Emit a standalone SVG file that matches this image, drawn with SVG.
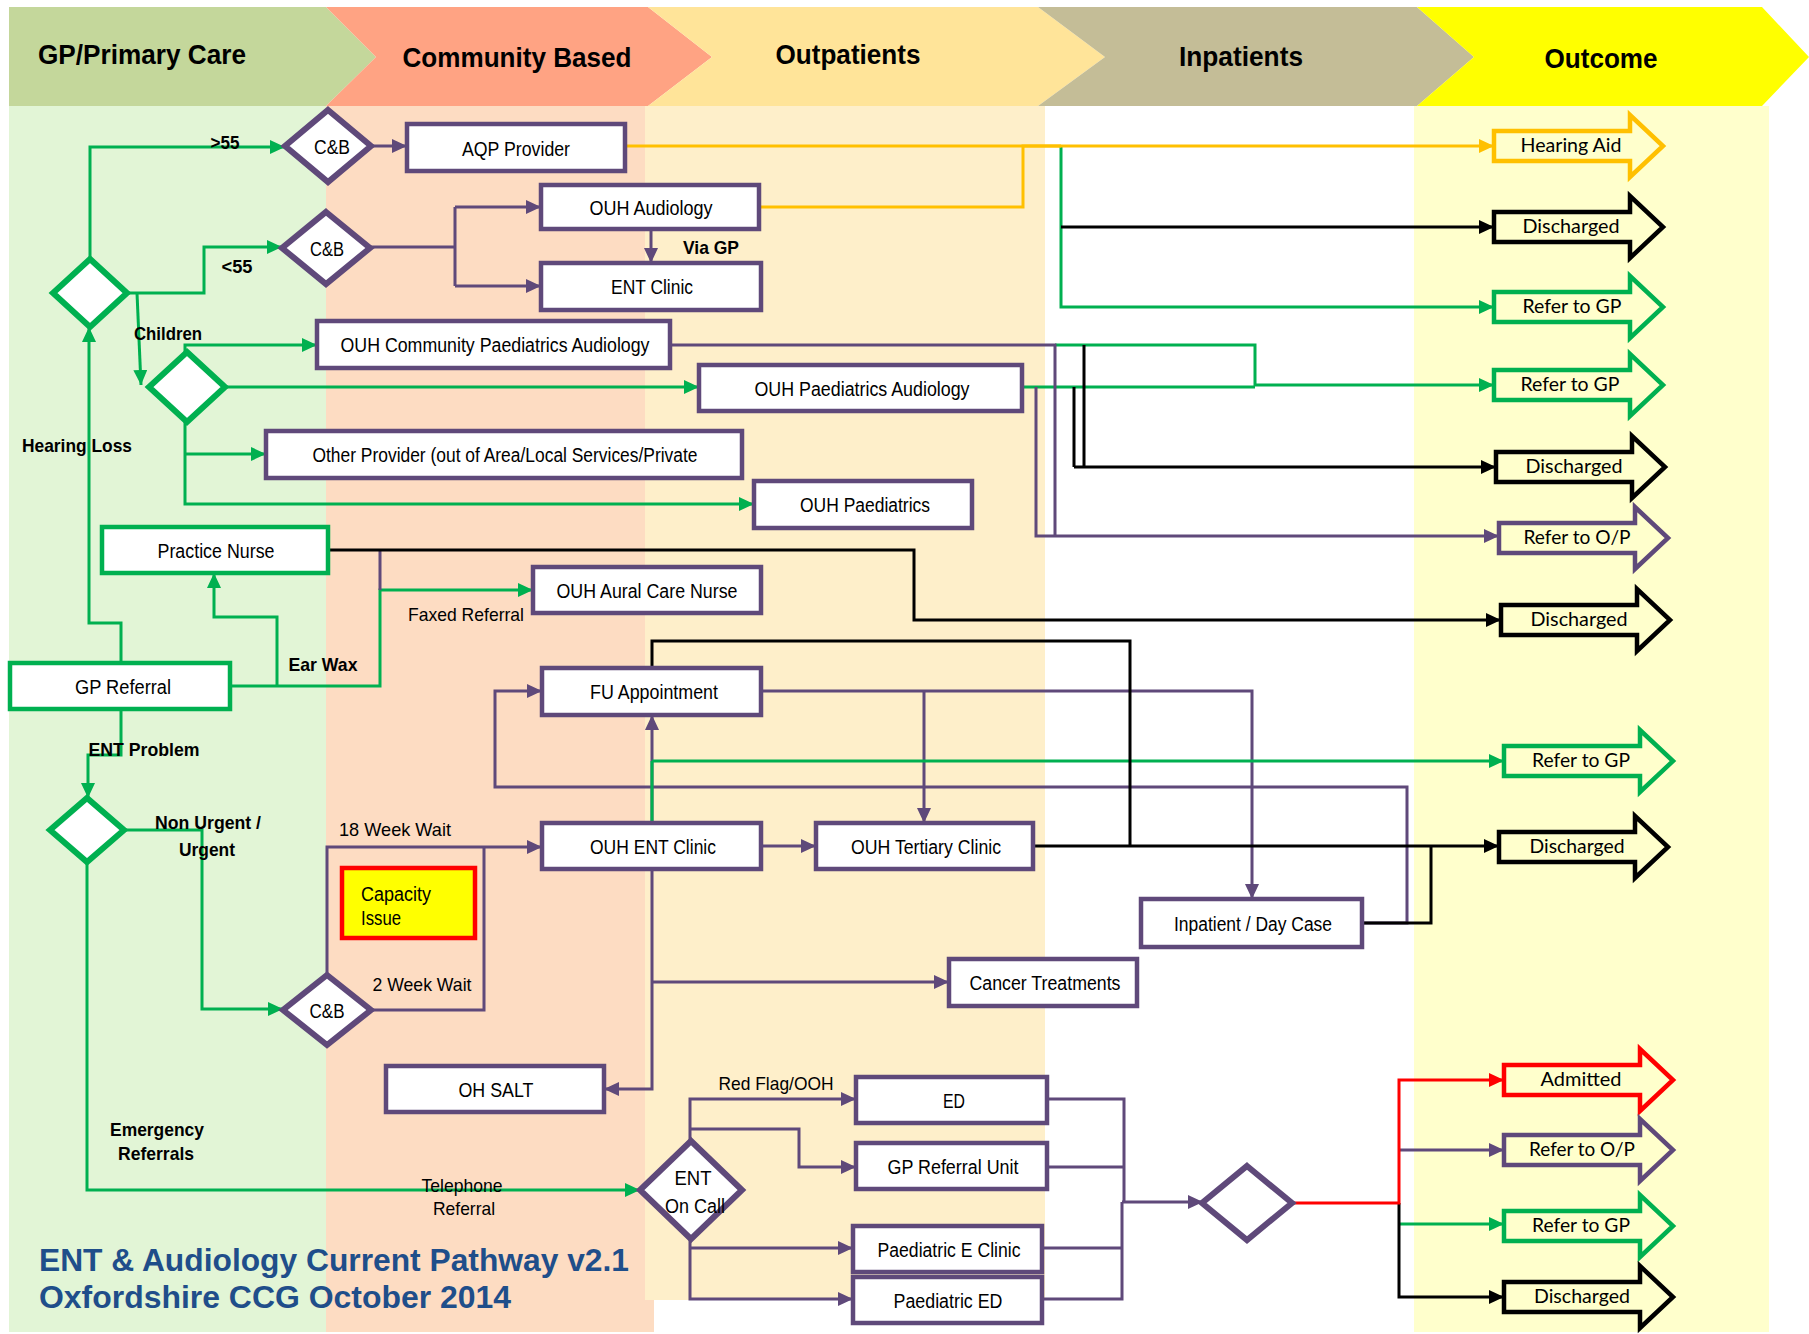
<svg xmlns="http://www.w3.org/2000/svg" width="1809" height="1334" viewBox="0 0 1809 1334">
<defs>
<style>
.hd{font-family:"Liberation Sans Narrow","Liberation Sans",Arial,sans-serif;font-weight:bold;font-size:27px;fill:#000;text-anchor:middle}
.t{font-family:"Liberation Sans Narrow","Liberation Sans",Arial,sans-serif;font-size:20px;fill:#000;text-anchor:middle}
.b{font-family:"Liberation Sans Narrow","Liberation Sans",Arial,sans-serif;font-size:19px;font-weight:bold;fill:#000;text-anchor:middle}
.l{font-family:"Liberation Sans Narrow","Liberation Sans",Arial,sans-serif;font-size:19px;fill:#000;text-anchor:middle}
.o{font-family:Lato,"Liberation Sans",sans-serif;font-size:19px;fill:#000;text-anchor:middle}
.ttl{font-family:"Liberation Sans",Arial,sans-serif;font-size:31px;font-weight:bold;fill:#1F4E8A}
.pbox{fill:#fff;stroke:#5F497A;stroke-width:4.5}
.gbox{fill:#fff;stroke:#00B050;stroke-width:4.5}
.pd{fill:#fff;stroke:#5F497A;stroke-width:6}
.gd{fill:#fff;stroke:#00B050;stroke-width:6}
.cg{fill:none;stroke:#00B050;stroke-width:3}
.cp{fill:none;stroke:#5F497A;stroke-width:3}
.ck{fill:none;stroke:#000;stroke-width:3}
.cy{fill:none;stroke:#FFC000;stroke-width:3}
.cr{fill:none;stroke:#FF0000;stroke-width:3}
.oa{fill:none;stroke-width:4.5}
</style>
<marker id="mg" markerUnits="userSpaceOnUse" markerWidth="15" markerHeight="14" refX="15" refY="7" orient="auto"><path d="M0,0 L15,7 L0,14 Z" fill="#00B050"/></marker>
<marker id="mp" markerUnits="userSpaceOnUse" markerWidth="15" markerHeight="14" refX="15" refY="7" orient="auto"><path d="M0,0 L15,7 L0,14 Z" fill="#5F497A"/></marker>
<marker id="mk" markerUnits="userSpaceOnUse" markerWidth="15" markerHeight="14" refX="15" refY="7" orient="auto"><path d="M0,0 L15,7 L0,14 Z" fill="#000"/></marker>
<marker id="my" markerUnits="userSpaceOnUse" markerWidth="15" markerHeight="14" refX="15" refY="7" orient="auto"><path d="M0,0 L15,7 L0,14 Z" fill="#FFC000"/></marker>
<marker id="mr" markerUnits="userSpaceOnUse" markerWidth="15" markerHeight="14" refX="15" refY="7" orient="auto"><path d="M0,0 L15,7 L0,14 Z" fill="#FF0000"/></marker>
<path id="oarrow" d="M0,-15 H136 V-31 L169,0 L136,31 V15 H0 Z"/>
</defs>

<rect width="1809" height="1334" fill="#fff"/>

<g id="background">
<rect x="9" y="106" width="317" height="1226" fill="#E2F5D6"/>
<rect x="326" y="106" width="328" height="1226" fill="#FDDCC2"/>
<rect x="645" y="106" width="400" height="1194" fill="#FEEFCA"/>
<rect x="1414" y="106" width="355" height="1226" fill="#FFFFCC"/>
</g>

<g id="header">
<polygon points="9,7 326,7 376,57 326,106 9,106" fill="#C4D79B"/>
<polygon points="326,7 648,7 712,57 648,106 326,106 376,57" fill="#FFA383"/>
<polygon points="648,7 1038,7 1105,57 1038,106 648,106 712,57" fill="#FFE499"/>
<polygon points="1038,7 1417,7 1474,57 1417,106 1038,106 1105,57" fill="#C4BD97"/>
<polygon points="1417,7 1762,7 1809,57 1762,106 1417,106 1474,57" fill="#FFFF00"/>
<text class="hd" x="142" y="64" textLength="208" lengthAdjust="spacingAndGlyphs">GP/Primary Care</text>
<text class="hd" x="517" y="67" textLength="229" lengthAdjust="spacingAndGlyphs">Community Based</text>
<text class="hd" x="848" y="64" textLength="145" lengthAdjust="spacingAndGlyphs">Outpatients</text>
<text class="hd" x="1241" y="66" textLength="124" lengthAdjust="spacingAndGlyphs">Inpatients</text>
<text class="hd" x="1601" y="68" textLength="113" lengthAdjust="spacingAndGlyphs">Outcome</text>
</g>

<g id="connectors">
<!-- green -->
<path class="cg" d="M90,259 V147 H285" marker-end="url(#mg)"/>
<path class="cg" d="M127,293 H204 V247 H282" marker-end="url(#mg)"/>
<path class="cg" d="M137,293 L141,385" marker-end="url(#mg)"/>
<path class="cg" d="M185,352 V345 H317" marker-end="url(#mg)"/>
<path class="cg" d="M225,387 H699" marker-end="url(#mg)"/>
<path class="cg" d="M185,422 V504 H754" marker-end="url(#mg)"/>
<path class="cg" d="M185,454 H266" marker-end="url(#mg)"/>
<path class="cg" d="M121,663 V623 H89 V327" marker-end="url(#mg)"/>
<path class="cg" d="M230,686 H380 V590 H533" marker-end="url(#mg)"/>
<path class="cg" d="M277,686 V617 H214 V573" marker-end="url(#mg)"/>
<path class="cg" d="M121,709 V755 H88 V798" marker-end="url(#mg)"/>
<path class="cg" d="M124,830 H202 V1009 H283" marker-end="url(#mg)"/>
<path class="cg" d="M87,862 V1190 H640" marker-end="url(#mg)"/>
<path class="cg" d="M1061,146 V307 H1494" marker-end="url(#mg)"/>
<path class="cg" d="M1055,345 H1255 V385 H1494" marker-end="url(#mg)"/>
<path class="cg" d="M1022,387 H1255"/>
<!-- purple -->
<path class="cp" d="M371,146 H407" marker-end="url(#mp)"/>
<path class="cp" d="M370,247 H455 M455,207 V286"/>
<path class="cp" d="M455,207 H541" stroke-width="5" marker-end="url(#mp)"/>
<path class="cp" d="M455,286 H541" marker-end="url(#mp)"/>
<path class="cp" d="M651,229 V263" marker-end="url(#mp)"/>
<path class="cp" d="M670,345 H1055 V536"/>
<path class="cp" d="M1036,387 V536 H1499" marker-end="url(#mp)"/>
<path class="cp" d="M380,550 V590"/>
<path class="cp" d="M327,975 V847 H542" marker-end="url(#mp)"/>
<path class="cp" d="M371,1010 H484 V847"/>
<path class="cp" d="M652,823 V715" marker-end="url(#mp)"/>
<path class="cp" d="M761,846 H816" marker-end="url(#mp)"/>
<path class="cp" d="M761,691 H1252 V899" marker-end="url(#mp)"/>
<path class="cp" d="M924,691 V823" marker-end="url(#mp)"/>
<path class="cp" d="M1362,923 H1407 V787 H495 V691 H542" marker-end="url(#mp)"/>
<path class="cp" d="M652,869 V1089 H604" stroke-width="5" marker-end="url(#mp)"/>
<path class="cp" d="M652,982 H949" marker-end="url(#mp)"/>
<path class="cp" d="M690,1141 V1099 H856" marker-end="url(#mp)"/>
<path class="cp" d="M690,1129 H799 V1167 H856" marker-end="url(#mp)"/>
<path class="cp" d="M690,1239 V1299 H853" marker-end="url(#mp)"/>
<path class="cp" d="M690,1248 H853" marker-end="url(#mp)"/>
<path class="cp" d="M1047,1099 H1124 V1202 M1047,1167 H1124 M1042,1248 H1122 M1042,1299 H1122 V1202"/>
<path class="cp" d="M1122,1202 H1203" marker-end="url(#mp)"/>
<path class="cp" d="M1399,1150 H1504" marker-end="url(#mp)"/>
<!-- green over ENT clinic -->
<path class="cg" d="M652,823 V761" stroke-width="5"/>
<path class="cg" d="M652,761 H1504" marker-end="url(#mg)"/>
<path class="cg" d="M1399,1224 H1504" marker-end="url(#mg)"/>
<!-- black -->
<path class="ck" d="M1061,227 H1494" marker-end="url(#mk)"/>
<path class="ck" d="M1084,345 V467 M1074,387 V467"/>
<path class="ck" d="M1074,467 H1496" marker-end="url(#mk)"/>
<path class="ck" d="M328,550 H914 V620 H1501" marker-end="url(#mk)"/>
<path class="ck" d="M652,668 V641 H1130 V846"/>
<path class="ck" d="M1033,846 H1499" marker-end="url(#mk)"/>
<path class="ck" d="M1362,923 H1431 V847"/>
<path class="ck" d="M1399,1203 V1297 H1504" marker-end="url(#mk)"/>
<!-- yellow -->
<path class="cy" d="M625,146 H1494" marker-end="url(#my)"/>
<path class="cy" d="M759,207 H1023 V146 H1061" stroke-width="5"/>
<!-- red -->
<path class="cr" d="M1292,1203 H1399 V1080 H1504" marker-end="url(#mr)"/>
</g>

<g id="n-gpref"><rect class="gbox" x="10" y="663" width="220" height="46"/><text class="t" x="123" y="694" textLength="96" lengthAdjust="spacingAndGlyphs">GP Referral</text></g>
<g id="n-nurse"><rect class="gbox" x="102" y="527" width="226" height="46"/><text class="t" x="216" y="558" textLength="117" lengthAdjust="spacingAndGlyphs">Practice Nurse</text></g>
<g id="n-d1"><polygon class="gd" points="90,259 127,293 90,327 53,293"/></g>
<g id="n-d2"><polygon class="gd" points="187,352 225,387 187,422 149,387"/></g>
<g id="n-d3"><polygon class="gd" points="87,798 124,830 87,862 50,830"/></g>
<g id="n-cb1"><polygon class="pd" points="328,110 371,146 328,182 285,146"/><text class="t" x="332" y="154" textLength="36" lengthAdjust="spacingAndGlyphs">C&amp;B</text></g>
<g id="n-cb2"><polygon class="pd" points="326,212 370,248 326,284 282,248"/><text class="t" x="327" y="256" textLength="34" lengthAdjust="spacingAndGlyphs">C&amp;B</text></g>
<g id="n-cb3"><polygon class="pd" points="327,975 371,1010 327,1045 283,1010"/><text class="t" x="327" y="1018" textLength="35" lengthAdjust="spacingAndGlyphs">C&amp;B</text></g>
<g id="n-aqp"><rect class="pbox" x="407" y="124" width="218" height="47"/><text class="t" x="516" y="156" textLength="108" lengthAdjust="spacingAndGlyphs">AQP Provider</text></g>
<g id="n-ouhaud"><rect class="pbox" x="541" y="185" width="218" height="44"/><text class="t" x="651" y="215" textLength="123" lengthAdjust="spacingAndGlyphs">OUH Audiology</text></g>
<g id="n-entclinic"><rect class="pbox" x="541" y="263" width="220" height="47"/><text class="t" x="652" y="294" textLength="82" lengthAdjust="spacingAndGlyphs">ENT Clinic</text></g>
<g id="n-commpaed"><rect class="pbox" x="317" y="321" width="353" height="47"/><text class="t" x="495" y="352" textLength="309" lengthAdjust="spacingAndGlyphs">OUH Community Paediatrics Audiology</text></g>
<g id="n-paedaud"><rect class="pbox" x="699" y="365" width="323" height="46"/><text class="t" x="862" y="396" textLength="215" lengthAdjust="spacingAndGlyphs">OUH Paediatrics Audiology</text></g>
<g id="n-other"><rect class="pbox" x="266" y="431" width="476" height="47"/><text class="t" x="505" y="462" textLength="385" lengthAdjust="spacingAndGlyphs">Other Provider (out of Area/Local Services/Private</text></g>
<g id="n-paed"><rect class="pbox" x="754" y="481" width="218" height="47"/><text class="t" x="865" y="512" textLength="130" lengthAdjust="spacingAndGlyphs">OUH Paediatrics</text></g>
<g id="n-aural"><rect class="pbox" x="533" y="567" width="228" height="46"/><text class="t" x="647" y="598" textLength="181" lengthAdjust="spacingAndGlyphs">OUH Aural Care Nurse</text></g>
<g id="n-fu"><rect class="pbox" x="542" y="668" width="219" height="47"/><text class="t" x="654" y="699" textLength="128" lengthAdjust="spacingAndGlyphs">FU Appointment</text></g>
<g id="n-ouhent"><rect class="pbox" x="542" y="823" width="219" height="46"/><text class="t" x="653" y="854" textLength="126" lengthAdjust="spacingAndGlyphs">OUH ENT Clinic</text></g>
<g id="n-tertiary"><rect class="pbox" x="816" y="823" width="217" height="46"/><text class="t" x="926" y="854" textLength="150" lengthAdjust="spacingAndGlyphs">OUH Tertiary Clinic</text></g>
<g id="n-inpatient"><rect class="pbox" x="1141" y="899" width="221" height="48"/><text class="t" x="1253" y="931" textLength="158" lengthAdjust="spacingAndGlyphs">Inpatient / Day Case</text></g>
<g id="n-cancer"><rect class="pbox" x="949" y="959" width="188" height="47"/><text class="t" x="1045" y="990" textLength="151" lengthAdjust="spacingAndGlyphs">Cancer Treatments</text></g>
<g id="n-salt"><rect class="pbox" x="386" y="1066" width="218" height="46"/><text class="t" x="496" y="1097" textLength="75" lengthAdjust="spacingAndGlyphs">OH SALT</text></g>
<g id="n-capacity"><rect x="342" y="868" width="133" height="70" fill="#FFFF00" stroke="#FF0000" stroke-width="4.5"/><text class="t" x="361" y="901" text-anchor="start" style="text-anchor:start" textLength="70" lengthAdjust="spacingAndGlyphs">Capacity</text><text class="t" x="361" y="925" style="text-anchor:start" textLength="40" lengthAdjust="spacingAndGlyphs">Issue</text></g>
<g id="n-ed"><rect class="pbox" x="856" y="1077" width="191" height="46"/><text class="t" x="954" y="1108" textLength="22" lengthAdjust="spacingAndGlyphs">ED</text></g>
<g id="n-gpru"><rect class="pbox" x="856" y="1143" width="191" height="46"/><text class="t" x="953" y="1174" textLength="131" lengthAdjust="spacingAndGlyphs">GP Referral Unit</text></g>
<g id="n-paedeclinic"><rect class="pbox" x="853" y="1226" width="189" height="46"/><text class="t" x="949" y="1257" textLength="143" lengthAdjust="spacingAndGlyphs">Paediatric E Clinic</text></g>
<g id="n-paeded"><rect class="pbox" x="853" y="1277" width="189" height="46"/><text class="t" x="948" y="1308" textLength="109" lengthAdjust="spacingAndGlyphs">Paediatric ED</text></g>
<g id="n-oncall"><polygon class="pd" points="691,1141 742,1190 691,1239 640,1190"/><text class="t" x="693" y="1185" textLength="37" lengthAdjust="spacingAndGlyphs">ENT</text><text class="t" x="695" y="1213" textLength="60" lengthAdjust="spacingAndGlyphs">On Call</text></g>
<g id="n-final"><polygon class="pd" points="1247,1166 1292,1203 1247,1240 1202,1203" stroke-width="5"/></g>

<g id="o-hearingaid"><use href="#oarrow" x="1494" y="146" class="oa" stroke="#FFC000" fill="#FFFFCC"/><text class="o" x="1571" y="152" textLength="101" lengthAdjust="spacingAndGlyphs">Hearing Aid</text></g>
<g id="o-dis1"><use href="#oarrow" x="1494" y="227" class="oa" stroke="#000" fill="#FFFFCC"/><text class="o" x="1571" y="233" textLength="97" lengthAdjust="spacingAndGlyphs">Discharged</text></g>
<g id="o-gp1"><use href="#oarrow" x="1494" y="307" class="oa" stroke="#00B050" fill="#FFFFCC"/><text class="o" x="1572" y="313" textLength="99" lengthAdjust="spacingAndGlyphs">Refer to GP</text></g>
<g id="o-gp2"><use href="#oarrow" x="1494" y="385" class="oa" stroke="#00B050" fill="#FFFFCC"/><text class="o" x="1570" y="391" textLength="99" lengthAdjust="spacingAndGlyphs">Refer to GP</text></g>
<g id="o-dis2"><use href="#oarrow" x="1496" y="467" class="oa" stroke="#000" fill="#FFFFCC"/><text class="o" x="1574" y="473" textLength="97" lengthAdjust="spacingAndGlyphs">Discharged</text></g>
<g id="o-op1"><use href="#oarrow" x="1499" y="538" class="oa" stroke="#5F497A" fill="#FFFFCC"/><text class="o" x="1577" y="544" textLength="107" lengthAdjust="spacingAndGlyphs">Refer to O/P</text></g>
<g id="o-dis3"><use href="#oarrow" x="1501" y="620" class="oa" stroke="#000" fill="#FFFFCC"/><text class="o" x="1579" y="626" textLength="97" lengthAdjust="spacingAndGlyphs">Discharged</text></g>
<g id="o-gp3"><use href="#oarrow" x="1504" y="761" class="oa" stroke="#00B050" fill="#FFFFCC"/><text class="o" x="1581" y="767" textLength="98" lengthAdjust="spacingAndGlyphs">Refer to GP</text></g>
<g id="o-dis4"><use href="#oarrow" x="1499" y="847" class="oa" stroke="#000" fill="#FFFFCC"/><text class="o" x="1577" y="853" textLength="95" lengthAdjust="spacingAndGlyphs">Discharged</text></g>
<g id="o-admitted"><use href="#oarrow" x="1504" y="1080" class="oa" stroke="#FF0000" fill="#FFFFCC"/><text class="o" x="1581" y="1086" textLength="81" lengthAdjust="spacingAndGlyphs">Admitted</text></g>
<g id="o-op2"><use href="#oarrow" x="1504" y="1150" class="oa" stroke="#5F497A" fill="#FFFFCC"/><text class="o" x="1582" y="1156" textLength="106" lengthAdjust="spacingAndGlyphs">Refer to O/P</text></g>
<g id="o-gp4"><use href="#oarrow" x="1504" y="1226" class="oa" stroke="#00B050" fill="#FFFFCC"/><text class="o" x="1581" y="1232" textLength="98" lengthAdjust="spacingAndGlyphs">Refer to GP</text></g>
<g id="o-dis5"><use href="#oarrow" x="1504" y="1297" class="oa" stroke="#000" fill="#FFFFCC"/><text class="o" x="1582" y="1303" textLength="96" lengthAdjust="spacingAndGlyphs">Discharged</text></g>

<g id="labels">
<text class="b" x="225" y="149" textLength="29" lengthAdjust="spacingAndGlyphs">&gt;55</text>
<text class="b" x="237" y="273" textLength="31" lengthAdjust="spacingAndGlyphs">&lt;55</text>
<text class="b" x="711" y="254" textLength="56" lengthAdjust="spacingAndGlyphs">Via GP</text>
<text class="b" x="168" y="340" textLength="68" lengthAdjust="spacingAndGlyphs">Children</text>
<text class="b" x="77" y="452" textLength="110" lengthAdjust="spacingAndGlyphs">Hearing Loss</text>
<text class="b" x="323" y="671" textLength="69" lengthAdjust="spacingAndGlyphs">Ear Wax</text>
<text class="l" x="466" y="621" textLength="116" lengthAdjust="spacingAndGlyphs">Faxed Referral</text>
<text class="b" x="144" y="756" textLength="111" lengthAdjust="spacingAndGlyphs">ENT Problem</text>
<text class="b" x="208" y="829" textLength="106" lengthAdjust="spacingAndGlyphs">Non Urgent /</text>
<text class="b" x="207" y="856" textLength="56" lengthAdjust="spacingAndGlyphs">Urgent</text>
<text class="l" x="395" y="836" textLength="112" lengthAdjust="spacingAndGlyphs">18 Week Wait</text>
<text class="l" x="422" y="991" textLength="99" lengthAdjust="spacingAndGlyphs">2 Week Wait</text>
<text class="b" x="157" y="1136" textLength="94" lengthAdjust="spacingAndGlyphs">Emergency</text>
<text class="b" x="156" y="1160" textLength="76" lengthAdjust="spacingAndGlyphs">Referrals</text>
<text class="l" x="462" y="1192" textLength="81" lengthAdjust="spacingAndGlyphs">Telephone</text>
<text class="l" x="464" y="1215" textLength="62" lengthAdjust="spacingAndGlyphs">Referral</text>
<text class="l" x="776" y="1090" textLength="115" lengthAdjust="spacingAndGlyphs">Red Flag/OOH</text>
<text class="ttl" x="39" y="1271" textLength="590" lengthAdjust="spacingAndGlyphs">ENT &amp; Audiology Current Pathway v2.1</text>
<text class="ttl" x="39" y="1308" textLength="472" lengthAdjust="spacingAndGlyphs">Oxfordshire CCG October 2014</text>
</g>
</svg>
